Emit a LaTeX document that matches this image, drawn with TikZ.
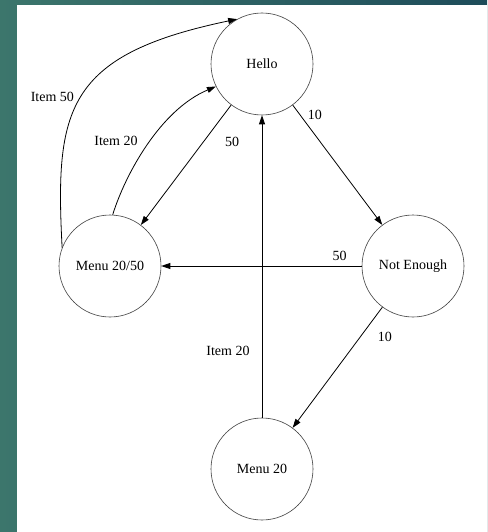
\documentclass[tikz,border=0pt]{standalone}
\usepackage{fontspec}
\setmainfont{Liberation Serif}
\usepackage{tikz}
\usetikzlibrary{arrows.meta, shapes, calc, positioning}
\usepackage{xcolor}
\definecolor{bgleft}{RGB}{60,118,108}
\definecolor{bgright}{RGB}{30,76,90}

\tikzset{
  state/.style={draw=black!75, line width=0.6pt, circle, minimum size=102pt, inner sep=0pt,
    font=\fontsize{14}{16}\selectfont},
  trans/.style={draw=black, line width=0.8pt, -{Triangle[length=9pt, width=6pt]}},
  lbl/.style={font=\fontsize{14}{16}\selectfont, inner sep=0pt}
}

\begin{document}
\begin{tikzpicture}[x=1pt, y=-1pt]
  % frame
  \fill[left color=bgleft, right color=bgright] (0,0) rectangle (487,532);
  \fill[white] (17,5) rectangle (487,532);
  \useasboundingbox (0,0) rectangle (487,532);

  % states
  \node[state] (hello) at (262,64) {Hello};
  \node[state] (menuboth) at (110,266) {Menu 20/50};
  \node[state] (notenough) at (413,266) {Not Enough};
  \node[state] (menutwenty) at (262,469) {Menu 20};

  % transitions
  \draw[trans] (hello) -- (notenough)
    node[lbl, pos=0.08, xshift=15pt] {10};
  \draw[trans] (hello) -- (menuboth)
    node[lbl, pos=0.31, xshift=29pt] {50};
  \draw[trans] (notenough) -- (menuboth)
    node[lbl, pos=0.11, yshift=10pt] {50};
  \draw[trans] (notenough) -- (menutwenty)
    node[lbl, pos=0.25, xshift=25pt] {10};
  \draw[trans] (menutwenty) -- (hello)
    node[lbl, pos=0.22, xshift=-34pt] {Item 20};
  \draw[trans] (menuboth.87) .. controls (125,175) and (160,110) .. (hello.206)
    node[lbl, pos=0.5, xshift=-32pt, yshift=4pt] {Item 20};
  \draw[trans] (menuboth.159) .. controls (55,110) and (65,55) .. (hello.119)
    node[lbl, pos=0.5, xshift=-30pt, yshift=-2pt] {Item 50};
\end{tikzpicture}
\end{document}
